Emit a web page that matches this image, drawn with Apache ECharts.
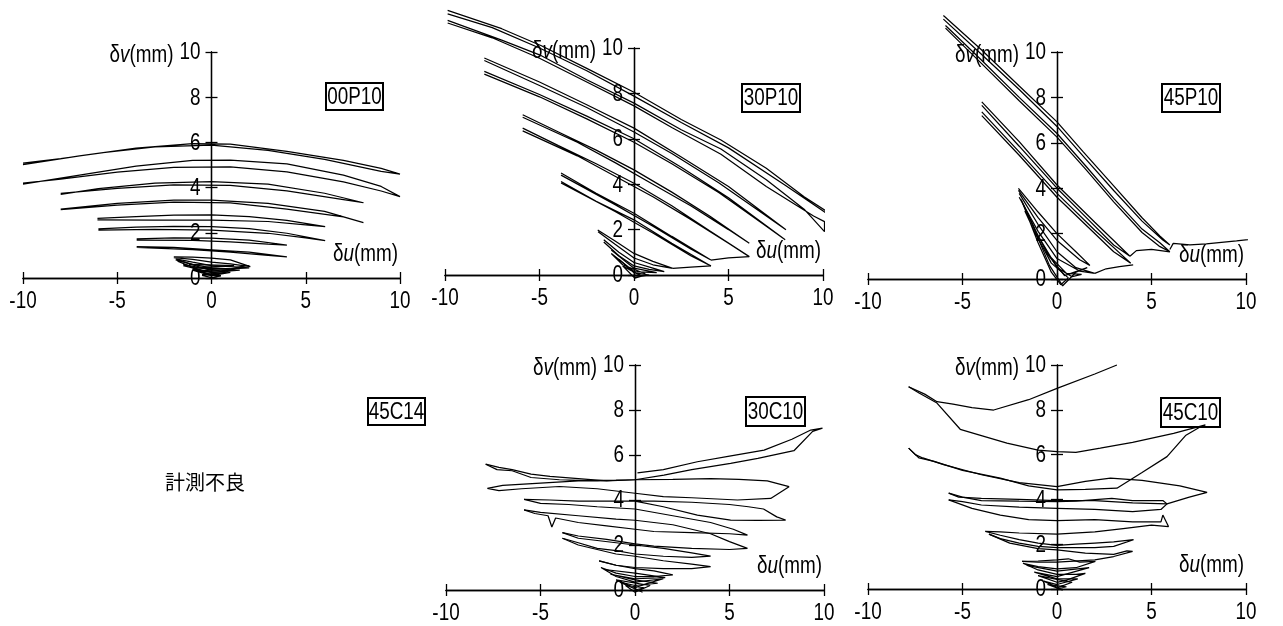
<!DOCTYPE html>
<html><head><meta charset="utf-8">
<script src="https://cdn.jsdelivr.net/npm/echarts@6/dist/echarts.min.js"></script>
<style>html,body{margin:0;padding:0;background:#fff}#c{width:1283px;height:626px}</style>
</head><body><div id="c"></div>
<script>
// ---------- tick labels / axis ranges ----------
const xTicks = [-10, -5, 0, 5, 10];
const yTicks = [0, 2, 4, 6, 8, 10];
const panelNames = ['00P10', '30P10', '45P10', '30C10', '45C10'];
const missingName = '45C14';
const missingNote = '計測不良';

// ---------- data: each curve is a polyline of [δu, δv] in mm ----------
const curves00P10 = [
  [[-10,5.02],[-7,5.4],[-4,5.75],[-1,5.95],[1,5.92],[4,5.6],[7,5.2],[9,4.85],[10,4.6],[9,4.72],[6,5.25],[3,5.65],[0,5.88],[-3,5.8],[-6,5.52],[-8,5.28],[-10,5.08]],
  [[-10,4.15],[-7,4.55],[-4,4.95],[-1,5.2],[1,5.22],[4,5.05],[7,4.55],[9,4.05],[10,3.6],[9,3.85],[7,4.25],[4,4.7],[1,4.92],[-2,4.9],[-5,4.68],[-8,4.38],[-10,4.2]],
  [[-8,3.7],[-6,3.95],[-3,4.2],[0,4.26],[3,4.15],[6,3.75],[8.06,3.33],[7,3.47],[4,3.85],[1,4.1],[-2,4.12],[-5,3.97],[-8,3.74]],
  [[-8,3.05],[-5,3.3],[-2,3.45],[0,3.45],[3,3.3],[6,2.95],[8.06,2.45],[7,2.7],[4,3.05],[1,3.32],[-2,3.36],[-5,3.22],[-8,3.02]],
  [[-6.05,2.64],[-4,2.72],[-2,2.78],[0,2.79],[2,2.72],[4,2.55],[6.03,2.27],[5,2.35],[3,2.5],[0,2.56],[-3,2.56],[-6.05,2.57]],
  [[-6,2.17],[-4,2.25],[-2,2.28],[0,2.27],[2,2.18],[4,1.98],[6.03,1.65],[5,1.78],[3,1.98],[0,2.12],[-3,2.15],[-6,2.12]],
  [[-3.97,1.73],[-2,1.78],[0,1.76],[2,1.68],[4,1.46],[3,1.5],[1,1.6],[-1,1.66],[-3.97,1.68]],
  [[-3.97,1.39],[-2,1.35],[0,1.25],[2,1.15],[4,0.94],[3,1.0],[1,1.15],[-1,1.26],[-3.97,1.35]],
  [[-2,0.94],[-1,0.92],[0,0.88],[1,0.8],[2.06,0.5],[1,0.62],[0,0.7],[-1,0.82],[-2,0.9]],
  [[-1.9,0.85],[-1,0.7],[0,0.55],[1,0.5],[2,0.45],[1,0.4],[0,0.45],[-1,0.6],[-1.9,0.8]],
  [[-1.8,0.8],[-0.5,0.45],[0.5,0.3],[1.8,0.55],[0.5,0.2],[-0.5,0.3],[-1.8,0.75]],
  [[-1.5,0.6],[0,0.35],[1.5,0.35],[0,0.25],[-1.5,0.55]],
  [[-1.2,0.6],[1.2,0.55],[-1.0,0.45],[1.0,0.4],[-0.8,0.3],[0.8,0.25],[-0.5,0.15],[0.5,0.1],[0,0]],
  [[-1,0.4],[0,0.15],[1,0.25],[0,0.1],[-1,0.35]],
  [[-0.5,0.15],[0,0],[0.5,0.1],[0,0.02],[-0.5,0.12]]
];

const curves30P10 = [
  [[-9.86,11.66],[-7,10.85],[-4.9,10.1],[-2.5,9.1],[0,8.05],[2.5,6.85],[4.6,5.95],[7,4.7],[9,3.45],[10.2,2.8],[10.86,2.5],[11.5,2.3],[10.86,2.5],[10.3,2.65],[8,3.95],[5,5.6],[2.5,6.72],[0,7.88],[-2.5,9.0],[-5,10.0],[-7.5,10.9],[-9.86,11.5]],
  [[-9.86,11.22],[-7,10.35],[-5,9.7],[-2.5,8.6],[0,7.57],[2.5,6.4],[4.6,5.55],[7,4.2],[9,2.9],[10.08,1.91],[10.08,2.35],[9.5,2.6],[7,3.9],[4.6,5.32],[2,6.5],[0,7.45],[-2.5,8.5],[-5,9.55],[-7.5,10.45],[-9.86,11.1]],
  [[-7.92,9.56],[-5,8.5],[-2.5,7.5],[0,6.47],[2.5,5.2],[5,3.9],[8.04,1.99],[7,2.6],[4.5,4.05],[2,5.35],[0,6.3],[-2.5,7.38],[-5,8.35],[-7.92,9.45]],
  [[-7.92,8.97],[-5,7.95],[-2.5,7.0],[0,6.0],[2.5,4.75],[5,3.4],[8.0,1.55],[7,2.15],[4.5,3.62],[2,4.9],[0,5.85],[-2.5,6.88],[-5,7.85],[-7.92,8.85]],
  [[-5.89,7.06],[-4,6.3],[-2,5.5],[0,4.63],[2,3.65],[4,2.6],[6.1,1.4],[5,2.0],[3,3.05],[1,4.0],[-1,4.95],[-3,5.85],[-5.89,6.95]],
  [[-5.89,6.47],[-4,5.7],[-2,4.9],[0,4.04],[2,3.05],[4,1.95],[6.1,0.81],[5,1.4],[3,2.45],[1,3.45],[-1,4.35],[-3,5.25],[-5.89,6.35]],
  [[4.07,0.66],[5,0.75],[6.1,0.81]],
  [[-3.86,4.49],[-2,3.6],[0,2.72],[2,1.7],[4.07,0.66],[3,1.15],[1,2.15],[-1,3.1],[-3.86,4.4]],
  [[-3.86,4.12],[-2,3.25],[0,2.43],[2,1.4],[4.07,0.4],[3,0.85],[1,1.85],[-1,2.8],[-3.86,4.05]],
  [[2.05,0.29],[3,0.35],[4.07,0.4]],
  [[-1.92,1.98],[-1,1.5],[0,0.95],[1,0.6],[2.05,0.29],[1,0.45],[0,0.75],[-1,1.35],[-1.9,1.9]],
  [[-1.6,1.55],[-0.8,1.0],[0,0.55],[1,0.3],[1.6,0.15],[0.8,0.25],[0,0.4],[-0.8,0.85],[-1.6,1.45]],
  [[-1.2,1.1],[0,0.3],[1.2,0.1],[0,0.15],[-1.2,0.95],[-0.6,0.45],[0.6,0.05]],
  [[-0.8,0.7],[0,0.1],[0.8,0],[0,-0.1],[-0.6,0.4],[0.4,-0.05],[0,-0.15]]
];

const curves45P10 = [
  [[-6.01,11.61],[-4,10.1],[-2,8.5],[0,6.92],[1.39,5.6],[3,4.1],[4.5,2.7],[5.44,1.9],[5.97,1.5],[5.6,1.72],[4.5,2.55],[3,3.9],[1.5,5.3],[0,6.72],[-2,8.35],[-4,9.9],[-6.01,11.45]],
  [[-5.9,11.17],[-4,9.65],[-2,8.0],[0,6.41],[1.5,5.0],[3,3.55],[4.5,2.2],[5.44,1.6],[5.97,1.2],[5.4,1.45],[4.5,2.05],[3,3.4],[1.5,4.85],[0,6.25],[-2,7.85],[-4,9.5],[-5.9,11.05]],
  [[5.97,1.3],[6.15,1.57],[7.03,1.5],[7.9,1.55],[9.5,1.68],[11.7,1.88]],
  [[3.86,1.0],[4.2,1.25],[5,1.3],[5.97,1.2]],
  [[-3.98,7.8],[-2,6.05],[0,4.14],[2,2.5],[3.86,1.0],[3,1.5],[1.5,2.75],[0,4.0],[-2,5.85],[-3.98,7.65]],
  [[-3.98,7.36],[-2,5.6],[0,3.77],[2,2.15],[3.9,0.7],[3,1.2],[1.5,2.4],[0,3.6],[-2,5.45],[-3.98,7.2]],
  [[2.0,0.25],[2.6,0.45],[3.3,0.55],[4.03,0.62]],
  [[-2.04,3.99],[-1,2.95],[0,2.0],[1,1.2],[1.74,0.6],[1.2,0.85],[0,1.7],[-1,2.7],[-2.04,3.9]],
  [[-2.0,3.77],[-1,2.4],[0,1.2],[1,0.5],[2.0,0.25],[1.2,0.35],[0,0.9],[-1,2.1],[-2.0,3.6]],
  [[-1.9,3.5],[-1,1.9],[0,0.5],[0.8,0.1],[1.3,0.2],[0.5,0.25],[-0.5,1.1],[-1.6,2.9]],
  [[-1.8,3.3],[-1,1.6],[-0.3,0.3],[0.2,-0.25],[0.6,0.05],[-0.3,0.7],[-1.2,2.1],[-1.7,3.0]],
  [[-1.4,2.6],[-0.4,0.6],[0.3,-0.3],[1.0,0.3],[1.6,0.5],[0.4,0.15],[-0.6,1.2]]
];

const curves30C10 = [
  [[0.13,5.21],[1.5,5.35],[3.3,5.7],[5,5.95],[6.83,6.22],[8.3,6.7],[9.3,7.11],[9.92,7.19],[9.4,7.05],[8.41,6.19],[6.5,5.85],[5.06,5.63],[3,5.35],[1.53,5.11],[0,4.9],[-1.5,4.85],[-3,4.95],[-4.5,5.05],[-5.5,5.15],[-6.5,5.35],[-7.2,5.45],[-7.9,5.59]],
  [[-7.9,5.59],[-7.3,5.35],[-6.5,5.3],[-5.5,5.0],[-4,4.9],[-2,4.85],[0,4.9],[2,4.92],[4,4.95],[5.5,4.92],[7,4.85],[8.15,4.59],[7.18,4.07],[5.42,4.0],[3,4.1],[1.5,4.15],[0,4.3],[-2,4.5],[-4,4.6],[-6,4.5],[-7.2,4.42],[-7.81,4.52],[-7,4.65],[-5,4.75],[-3,4.85],[-1,4.88],[0,4.9]],
  [[0,3.95],[1.5,3.7],[3.3,3.33],[5.06,3.11],[6.5,3.1],[7.97,3.11],[7.5,3.25],[6.8,3.6],[6,3.7],[5,3.8],[3,3.9],[1,3.95],[-1,3.95],[-3,3.95],[-4.5,4.0],[-5.87,4.03]],
  [[-5.87,4.03],[-5,3.85],[-3.5,3.8],[-2,3.7],[0,3.6],[2,3.3],[4,3.0],[5.2,2.7],[5.95,2.44],[5,2.5],[3,2.55],[1,2.6],[0,2.7],[-1.5,2.85],[-3,3.0],[-4.2,3.2],[-4.4,2.8],[-4.6,3.3],[-5.3,3.4],[-5.87,3.56]],
  [[-5.87,3.56],[-5,3.45],[-3,3.3],[-1,3.15],[0,3.1],[2,2.9],[4,2.5],[5,2.15],[5.95,1.85],[5,1.8],[3,1.85],[1,1.95],[0,2.05],[-1.5,2.25],[-3,2.4],[-3.84,2.55]],
  [[-3.84,2.55],[-3,2.3],[-2,2.2],[-1,2.1],[0,2.0],[1.5,1.85],[3,1.65],[4.0,1.51],[3,1.45],[1.5,1.5],[0,1.6],[-1,1.75],[-2,1.85],[-3,2.1],[-3.84,2.3]],
  [[-3.84,2.3],[-3,2.0],[-2,1.8],[-1,1.6],[0,1.5],[1.5,1.3],[3,1.15],[4.0,1.04],[3,0.95],[1.5,0.95],[0,1.0],[-1,1.1],[-1.9,1.29]],
  [[-1.9,1.29],[-1,1.1],[0,0.95],[1,0.85],[2.0,0.67],[1,0.6],[0,0.6],[-1,0.75],[-1.8,1.0],[-1,0.6],[0,0.35],[1.5,0.5],[0.5,0.25],[0,0.1],[-1,0.45],[0.8,0.2],[0,-0.1],[-0.5,0.2],[0.5,0.1],[0,0]],
  [[-1.5,0.9],[0,0.75],[1.6,0.55],[0,0.5],[-1.3,0.7],[0,0.45],[1.2,0.3],[0,0.2],[-0.8,0.35],[0.4,-0.1]]
];

const curves45C10 = [
  [[3.17,10.0],[2,9.6],[0,8.96],[-1.5,8.45],[-3.35,7.99],[-4.5,8.1],[-5.5,8.25],[-6.35,8.36],[-7,8.7],[-7.85,9.03]],
  [[-7.85,9.03],[-7.3,8.75],[-6.35,8.3],[-5.12,7.13],[-4,6.85],[-2.65,6.51],[-1,6.2],[0,6.13],[1,6.1],[2.29,6.29],[4,6.55],[6.17,6.95],[7.85,7.33],[7.5,7.2],[6.8,6.85],[5.82,5.91],[4.5,5.2],[3.17,4.5],[1.5,4.45],[0,4.43],[-1.5,4.6],[-3,4.95],[-5,5.3],[-6.5,5.7],[-7.3,5.85],[-7.85,6.29]],
  [[-7.85,6.29],[-7.5,6.0],[-7.1,5.85],[-6,5.55],[-4,5.1],[-2,4.75],[0,4.57],[1.5,4.8],[2.83,4.95],[4.5,4.85],[6.5,4.6],[7.94,4.31],[7,4.1],[5.82,3.8],[4,3.85],[2,3.95],[0,3.95],[-2,4.0],[-4,4.05],[-5.2,4.1],[-5.73,4.28]],
  [[-5.73,4.28],[-5,4.1],[-4,3.95],[-2,3.92],[0,3.9],[1,3.92],[2.9,4.05],[4,3.95],[5.6,3.95],[5.82,3.8],[5.5,3.55],[4,3.45],[2,3.55],[0,3.6],[-2,3.65],[-4,3.75],[-5,3.9],[-5.73,3.98]],
  [[-5.73,3.98],[-4.5,3.6],[-3,3.3],[-1.5,3.1],[0,3.05],[2,3.1],[4,3.0],[5.5,3.0],[5.6,3.3],[5.9,2.79],[5,2.85],[3.5,2.7],[2,2.55],[0,2.45],[-2,2.5],[-3,2.55],[-3.79,2.57]],
  [[-3.79,2.57],[-3,2.4],[-2,2.2],[-1,2.05],[0,1.95],[1,2.0],[2,2.05],[3,2.1],[4.05,2.2],[3,1.9],[2,1.85],[0,1.85],[-1,1.9],[-2,2.05],[-3,2.25],[-3.6,2.45]],
  [[-3.6,2.45],[-2.5,2.05],[-1,1.8],[0,1.75],[1.5,1.6],[3,1.55],[3.7,1.7],[4.0,1.68],[3,1.45],[2,1.3],[0,1.2],[-1,1.2],[-1.85,1.23]],
  [[-1.85,1.23],[-1,1.25],[0,1.3],[0.6,1.35],[1.2,1.2],[2.03,1.23],[1,0.95],[0,0.9],[-1,1.0],[-1.8,1.15],[-1,0.85],[0,0.65],[1,0.65],[1.5,0.7],[0.5,0.4],[0,0.3],[-1,0.6],[0.8,0.3],[0,0.05],[-0.5,0.2],[0.5,0.1],[0,0]],
  [[-1.6,1.05],[0,0.8],[1.7,0.95],[0,0.55],[-1.2,0.75],[0,0.45],[1.1,0.45],[0,0.2],[-0.7,0.35],[0.3,-0.05]]
];

const panelCurves = [curves00P10, curves30P10, curves45P10, curves30C10, curves45C10];

// ---------- layout ----------
const FONT = '23px "Liberation Sans", Arial, sans-serif';
const FONT_I = 'italic 23px "Liberation Sans", Arial, sans-serif';
const NARROW = 0.82;
const grids = [
  {left: 23,  top: 52,  width: 377, height: 226},
  {left: 445, top: 48,  width: 378, height: 227},
  {left: 868, top: 52,  width: 378, height: 227},
  {left: 446, top: 365, width: 378, height: 225},
  {left: 868, top: 365, width: 378, height: 224}
];
const boxes = [
  [326, 83, 57, 27], [742, 84, 58, 28], [1162, 84, 58, 28], [746, 397, 59, 29], [1161, 398, 59, 29]
];

function txt(text, x, y, align, vAlign, extra) {
  return {type: 'text', x, y, scaleX: NARROW, z: 22, silent: true,
    style: Object.assign({text, font: FONT, fill: '#000', align, verticalAlign: vAlign,
      textAlign: align, textVerticalAlign: vAlign}, extra || {})};
}

const lineStyle = {color: '#000', width: 1.3};
const xAxes = [], yAxes = [], series = [];
grids.forEach((g, i) => {
  const xBase = {gridIndex: i, type: 'value', min: xTicks[0], max: xTicks[xTicks.length - 1], interval: 5,
    position: 'bottom', splitLine: {show: false}, axisLine: {onZero: false, lineStyle}, axisLabel: {show: false}};
  xAxes.push(Object.assign({}, xBase, {axisTick: {inside: false, length: 6, lineStyle}}));
  xAxes.push(Object.assign({}, xBase, {axisTick: {inside: true, length: 6, lineStyle}}));
  const yBase = {gridIndex: i, type: 'value', min: yTicks[0], max: yTicks[yTicks.length - 1], interval: 2,
    position: 'left', offset: -g.width / 2, splitLine: {show: false},
    axisLine: {onZero: false, lineStyle}, axisLabel: {show: false}};
  yAxes.push(Object.assign({}, yBase, {axisTick: {inside: false, length: 6, lineStyle}}));
  yAxes.push(Object.assign({}, yBase, {axisTick: {inside: true, length: 6, lineStyle}}));
  panelCurves[i].forEach(c => {
    series.push({type: 'line', xAxisIndex: 2 * i, yAxisIndex: 2 * i, data: c,
      showSymbol: false, symbol: 'none', clip: false, silent: true, animation: false,
      lineStyle: {color: '#000', width: 1.25}});
  });
});

const chart = echarts.init(document.getElementById('c'), null, {renderer: 'canvas'});
chart.setOption({animation: false, backgroundColor: '#fff', grid: grids, xAxis: xAxes, yAxis: yAxes, series});

// ---------- text placed through the axes' own scales ----------
const graphic = [];
const rich = {n: {font: FONT}, i: {font: FONT_I}};
grids.forEach((g, i) => {
  const origin = chart.convertToPixel({gridIndex: i}, [0, 0]);
  xTicks.forEach(v => {
    const p = chart.convertToPixel({gridIndex: i}, [v, 0]);
    graphic.push(txt(String(v), p[0], p[1] + 24, 'center', 'middle'));
  });
  yTicks.forEach(v => {
    const p = chart.convertToPixel({gridIndex: i}, [0, v]);
    graphic.push(txt(String(v), p[0] - 11, p[1] + 1, 'right', 'middle'));
  });
  const top = chart.convertToPixel({gridIndex: i}, [0, 10]);
  const right = chart.convertToPixel({gridIndex: i}, [10, 0]);
  graphic.push(txt('{n|δ}{i|v}{n|(mm)}', top[0] - 38, top[1] + 4, 'right', 'middle', {rich}));
  graphic.push(txt('{n|δ}{i|u}{n|(mm)}', right[0] - 2, origin[1] - 23, 'right', 'middle', {rich}));
  const b = boxes[i];
  graphic.push({type: 'rect', shape: {x: b[0], y: b[1], width: b[2], height: b[3]}, z: 20, silent: true,
    style: {fill: 'none', stroke: '#000', lineWidth: 2}});
  graphic.push(txt(panelNames[i], b[0] + b[2] / 2, b[1] + b[3] / 2 + 1, 'center', 'middle'));
});
graphic.push({type: 'rect', shape: {x: 368, y: 398, width: 57, height: 27}, z: 20, silent: true,
  style: {fill: 'none', stroke: '#000', lineWidth: 2}});
graphic.push(txt(missingName, 396.5, 412.5, 'center', 'middle'));
graphic.push({type: 'text', x: 205, y: 482, z: 22, silent: true,
  style: {text: missingNote, font: '20px "Noto Sans CJK JP", sans-serif', fill: '#000',
    align: 'center', verticalAlign: 'middle', textAlign: 'center', textVerticalAlign: 'middle'}});
chart.setOption({graphic});
</script></body></html>
